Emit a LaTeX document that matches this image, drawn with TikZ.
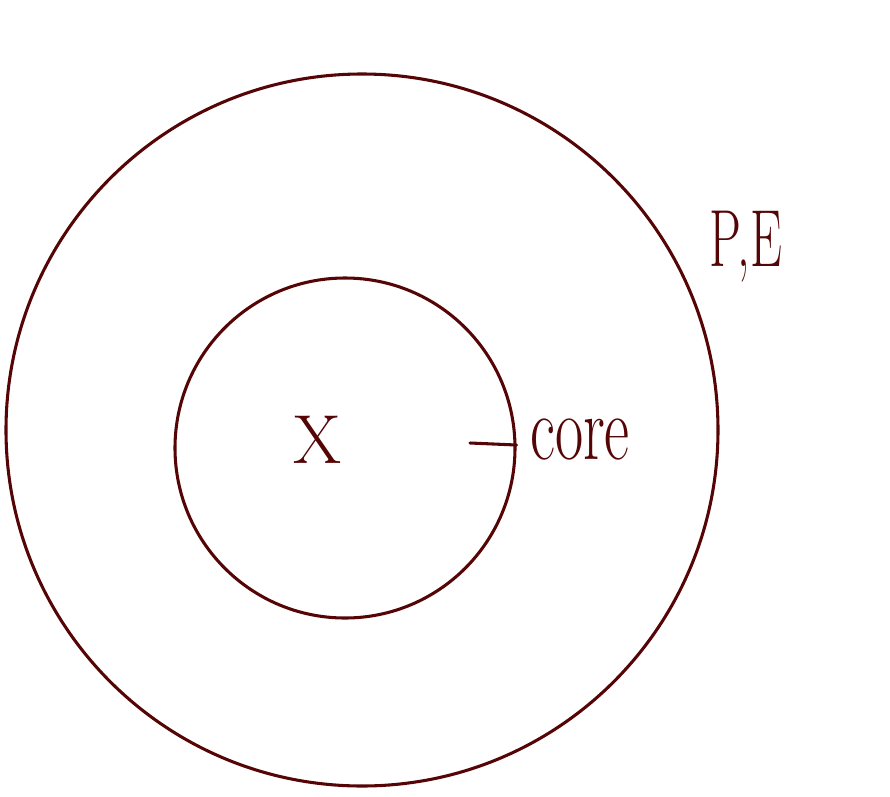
\documentclass[tikz,border=0pt]{standalone}
\usepackage{graphicx}
\definecolor{ink}{RGB}{85,5,5}
\tikzset{
  ring/.style={draw=ink, line width=2.3pt},
  hand/.style={text=ink, inner sep=0pt},
  tick/.style={draw=ink, line width=2.3pt, line cap=round}
}
\begin{document}
\begin{tikzpicture}[x=0.75pt,y=-0.75pt]
\useasboundingbox (0,0) rectangle (890,797);
\node[ring, circle, minimum size=712*0.75pt, inner sep=0pt] (outer) at (362,430) {};
\node[ring, circle, minimum size=340*0.75pt, inner sep=0pt] (inner) at (345,448) {};
\node[hand, font=\fontsize{52}{60}\selectfont] (x) at (318,440) {X};
\coordinate (tickstart) at (470,443);
\draw[tick] (tickstart) -- (inner.1.7);
\node[hand, font=\fontsize{46}{52}\selectfont] (core) at (580,440) {\scalebox{1}[1.5]{core}};
\node[hand, font=\fontsize{38}{44}\selectfont] (pe) at (746,247) {\scalebox{1}[1.6]{P,E}};
\end{tikzpicture}
\end{document}
